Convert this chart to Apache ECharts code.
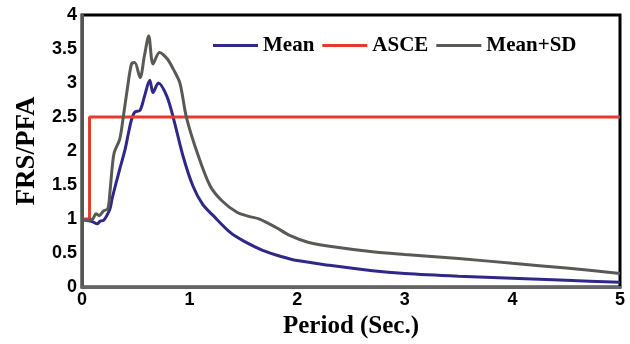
<!DOCTYPE html>
<html>
<head>
<meta charset="utf-8">
<script src="https://cdn.jsdelivr.net/npm/echarts@6/dist/echarts.min.js"></script>
<style>
  html, body { margin: 0; padding: 0; background: #fff; }
  #chart { width: 630px; height: 344px; }
</style>
</head>
<body>
<div id="chart"></div>
<script>
// values, [period, FRS/PFA]
let meanPts = [
  [0, 1.0], [0.05, 0.98], [0.1, 0.96], [0.14, 0.93], [0.17, 0.97], [0.2, 0.98],
  [0.23, 1.05], [0.26, 1.15], [0.28, 1.3], [0.32, 1.55], [0.35, 1.73], [0.4, 2.02],
  [0.43, 2.25], [0.46, 2.46], [0.49, 2.57], [0.54, 2.6], [0.58, 2.8], [0.63, 3.04],
  [0.66, 2.86], [0.71, 3.0], [0.79, 2.8], [0.85, 2.48], [0.94, 1.92], [1.03, 1.49],
  [1.12, 1.22], [1.22, 1.05], [1.38, 0.8], [1.5, 0.68], [1.68, 0.54], [1.85, 0.45],
  [2.0, 0.39], [2.3, 0.32], [2.7, 0.24], [3.0, 0.2], [3.5, 0.16], [4.0, 0.13],
  [4.5, 0.1], [5.0, 0.07]
];
let ascePts = [[0, 1.0], [0.07, 1.0], [0.07, 2.5], [5.0, 2.5]];
let sdPts = [
  [0, 1.0], [0.03, 0.98], [0.1, 1.0], [0.13, 1.08], [0.16, 1.05], [0.2, 1.12],
  [0.24, 1.15], [0.26, 1.4], [0.28, 1.75], [0.3, 1.98], [0.35, 2.17], [0.38, 2.46],
  [0.42, 2.9], [0.46, 3.28], [0.49, 3.3], [0.54, 3.08], [0.58, 3.4], [0.62, 3.69],
  [0.66, 3.28], [0.72, 3.45], [0.79, 3.36], [0.85, 3.2], [0.91, 3.0], [0.97, 2.5],
  [1.07, 1.98], [1.19, 1.49], [1.3, 1.27], [1.44, 1.1], [1.55, 1.04], [1.65, 1.0],
  [1.8, 0.88], [1.93, 0.76], [2.1, 0.66], [2.3, 0.6], [2.7, 0.52], [3.0, 0.48],
  [3.5, 0.42], [4.0, 0.35], [4.5, 0.28], [5.0, 0.2]
];
let names = ['Mean', 'ASCE', 'Mean+SD'];
let colors = ['#2f2888', '#e83a2c', '#585a56'];

let chart = echarts.init(document.getElementById('chart'));
let tickFont = {
  fontFamily: 'Liberation Sans',
  fontWeight: 'bold',
  fontSize: 18,
  color: '#000'
};
chart.setOption({
  animation: false,
  color: colors,
  grid: {
    left: 82,
    right: 10,
    top: 15,
    bottom: 55,
    show: true,
    borderColor: '#000',
    borderWidth: 3
  },
  legend: {
    data: names,
    left: 208,
    top: 30,
    icon: 'rect',
    itemWidth: 45,
    itemHeight: 3,
    itemGap: 8,
    textStyle: {
      fontFamily: 'Liberation Serif',
      fontWeight: 'bold',
      fontSize: 21,
      color: '#000'
    }
  },
  xAxis: {
    type: 'value',
    min: 0,
    max: 5,
    interval: 1,
    name: 'Period (Sec.)',
    nameLocation: 'middle',
    nameGap: 20,
    nameTextStyle: {
      fontFamily: 'Liberation Serif',
      fontWeight: 'bold',
      fontSize: 25,
      color: '#000'
    },
    axisLine: { lineStyle: { color: '#666', width: 3 } },
    axisTick: { show: false },
    splitLine: { show: false },
    axisLabel: Object.assign({ margin: 4 }, tickFont)
  },
  yAxis: {
    type: 'value',
    min: 0,
    max: 4,
    interval: 0.5,
    name: 'FRS/PFA',
    nameLocation: 'middle',
    nameGap: 41,
    nameTextStyle: {
      fontFamily: 'Liberation Serif',
      fontWeight: 'bold',
      fontSize: 27,
      color: '#000'
    },
    axisLine: { show: true, lineStyle: { color: '#555', width: 3 } },
    axisTick: { show: false },
    splitLine: { show: false },
    axisLabel: Object.assign({ margin: 5 }, tickFont)
  },
  series: [
    {
      name: names[0],
      type: 'line',
      data: meanPts,
      symbol: 'none',
      smooth: 0.3,
      lineStyle: { width: 3 }
    },
    {
      name: names[1],
      type: 'line',
      data: ascePts,
      symbol: 'none',
      lineStyle: { width: 3 }
    },
    {
      name: names[2],
      type: 'line',
      data: sdPts,
      symbol: 'none',
      smooth: 0.3,
      lineStyle: { width: 3 }
    }
  ]
});
</script>
</body>
</html>
